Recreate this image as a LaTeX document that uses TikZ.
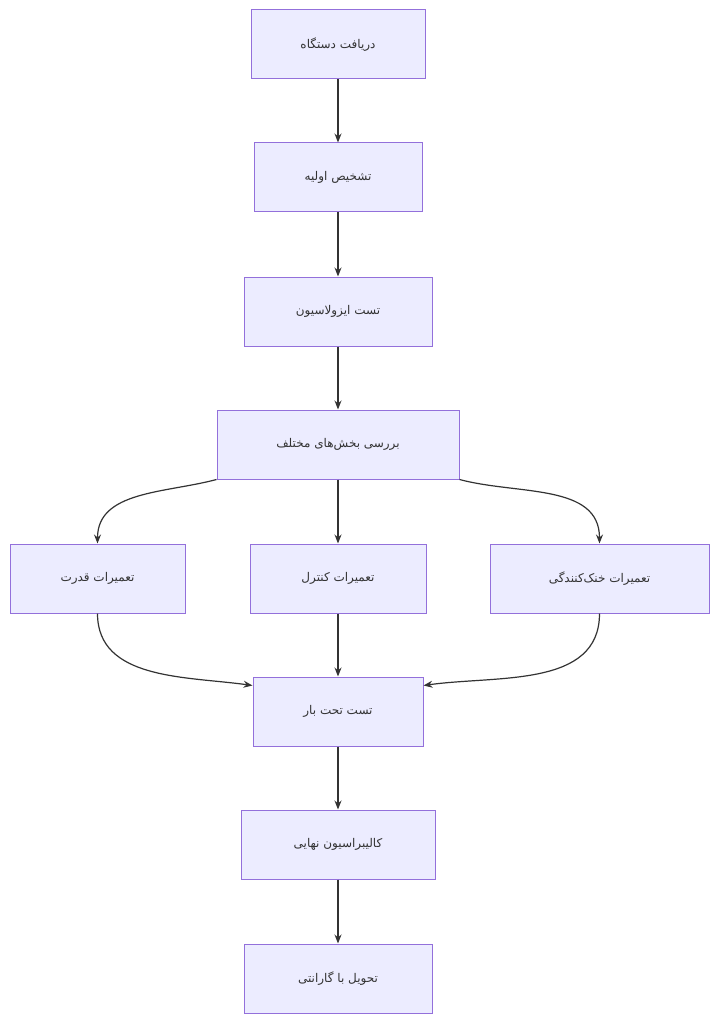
\documentclass[tikz,border=0pt]{standalone}
\usepackage{fontspec}
\newfontfamily\fa[Script=Arabic]{DejaVu Sans}
\TeXXeTstate=1
\usetikzlibrary{arrows.meta}
\definecolor{nfill}{HTML}{ECECFF}
\definecolor{nline}{HTML}{9370DB}
\definecolor{aline}{HTML}{333333}
\begin{document}
\begin{tikzpicture}[x=1pt,y=-1pt,
  box/.style={draw=nline,fill=nfill,line width=1pt,minimum height=69pt,inner sep=0pt,font=\fa\fontsize{12}{14}\selectfont,text=aline},
  arr/.style={draw=aline,line width=1.2pt,-{Stealth[length=9pt,width=7pt]}}]
\useasboundingbox (0,0) rectangle (719,1024);
\newcommand\rtl[1]{\beginR #1\endR}
\node[box,minimum width=174pt] (n1) at (338,44.5) {\rtl{دریافت دستگاه}};
\node[box,minimum width=168pt] (n2) at (338,177.5) {\rtl{تشخیص اولیه}};
\node[box,minimum width=188pt] (n3) at (338,311.5) {\rtl{تست ایزولاسیون}};
\node[box,minimum width=242pt] (n4) at (338,444.5) {\rtl{بررسی بخش‌های مختلف}};
\node[box,minimum width=175pt] (a) at (97.5,578.5) {\rtl{تعمیرات قدرت}};
\node[box,minimum width=176pt] (b) at (338,578.5) {\rtl{تعمیرات کنترل}};
\node[box,minimum width=219pt] (c) at (599.5,578.5) {\rtl{تعمیرات خنک‌کنندگی}};
\node[box,minimum width=170pt] (n6) at (338,711.5) {\rtl{تست تحت بار}};
\node[box,minimum width=194pt] (n7) at (338,844.5) {\rtl{کالیبراسیون نهایی}};
\node[box,minimum width=188pt] (n8) at (338,978.5) {\rtl{تحویل با گارانتی}};
\draw[arr] (n1) -- (n2);
\draw[arr] (n2) -- (n3);
\draw[arr] (n3) -- (n4);
\draw[arr] (n4.south west) to[out=-165,in=90] (a.north);
\draw[arr] (n4) -- (b);
\draw[arr] (n4.south east) to[out=-15,in=90] (c.north);
\draw[arr] (a.south) to[out=-90,in=172] ([yshift=-9pt]n6.north west);
\draw[arr] (b) -- (n6);
\draw[arr] (c.south) to[out=-90,in=8] ([yshift=-9pt]n6.north east);
\draw[arr] (n6) -- (n7);
\draw[arr] (n7) -- (n8);
\end{tikzpicture}
\end{document}
